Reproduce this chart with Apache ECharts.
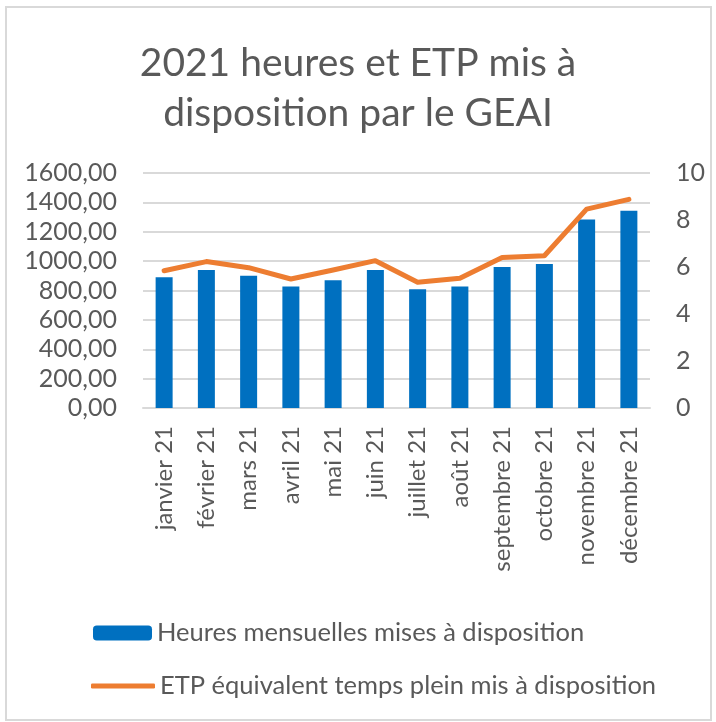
<!DOCTYPE html>
<html>
<head>
<meta charset="utf-8">
<script src="https://cdn.jsdelivr.net/npm/echarts@6/dist/echarts.min.js"></script>
<style>
html, body { margin: 0; padding: 0; background: #ffffff; }
#chart { width: 716px; height: 722px; }
</style>
</head>
<body>
<div id="chart"></div>
<script>
var months = ["janvier 21", "février 21", "mars 21", "avril 21", "mai 21", "juin 21",
    "juillet 21", "août 21", "septembre 21", "octobre 21", "novembre 21", "décembre 21"];
var heures = [890, 940, 900, 828, 869, 940, 808, 828, 960, 980, 1284, 1343];
var etp = [5.84, 6.23, 5.97, 5.49, 5.87, 6.27, 5.35, 5.52, 6.40, 6.48, 8.46, 8.88];
var serieNames = ["Heures mensuelles mises à disposition", "ETP équivalent temps plein mis à disposition"];

var font = "Lato";
var grey = "#595959";

var chart = echarts.init(document.getElementById('chart'), null, {renderer: 'canvas'});
var option = {
    animation: false,
    backgroundColor: "#ffffff",
    textStyle: {fontFamily: font},
    title: {
        text: "2021 heures et ETP mis à\ndisposition par le GEAI",
        left: "center",
        top: 33,
        textStyle: {fontFamily: font, fontSize: 39, fontWeight: "normal", color: grey, lineHeight: 50}
    },
    graphic: [{
        type: "rect",
        shape: {x: 6, y: 7, width: 705, height: 713},
        style: {fill: "none", stroke: "#d9d9d9", lineWidth: 2},
        silent: true
    }],
    legend: [{
        data: [serieNames[0]],
        left: 88, top: 615,
        itemWidth: 59, itemHeight: 15,
        itemGap: 8,
        textStyle: {fontFamily: font, fontSize: 25.5, color: grey}
    }, {
        data: [{name: serieNames[1], icon: "roundRect"}],
        left: 86, top: 668,
        itemWidth: 64, itemHeight: 5,
        itemGap: 6,
        textStyle: {fontFamily: font, fontSize: 25.5, color: grey}
    }],
    grid: {left: 143, right: 66, top: 173, bottom: 314, containLabel: false},
    xAxis: {
        type: "category",
        data: months,
        axisLine: {lineStyle: {color: "#d9d9d9", width: 2}},
        axisTick: {show: false},
        axisLabel: {rotate: 90, margin: 18, fontFamily: font, fontSize: 24, color: grey, interval: 0}
    },
    yAxis: [{
        type: "value",
        min: 0, max: 1600, interval: 200,
        axisLine: {show: false},
        axisTick: {show: false},
        splitLine: {lineStyle: {color: "#d9d9d9", width: 2}},
        axisLabel: {
            margin: 26, fontFamily: font, fontSize: 25, color: grey,
            formatter: function (v) { return v.toFixed(2).replace(".", ","); }
        }
    }, {
        type: "value",
        min: 0, max: 10, interval: 2,
        position: "right",
        axisLine: {show: false},
        axisTick: {show: false},
        splitLine: {show: false},
        axisLabel: {margin: 26, fontFamily: font, fontSize: 25, color: grey}
    }],
    series: [{
        name: serieNames[0],
        type: "bar",
        data: heures,
        barWidth: 17,
        itemStyle: {color: "#0070c0"}
    }, {
        name: serieNames[1],
        type: "line",
        yAxisIndex: 1,
        data: etp,
        symbol: "none",
        lineStyle: {color: "#ed7d31", width: 5, cap: "round", join: "round"},
        itemStyle: {color: "#ed7d31"}
    }]
};
chart.setOption(option);
</script>
</body>
</html>
